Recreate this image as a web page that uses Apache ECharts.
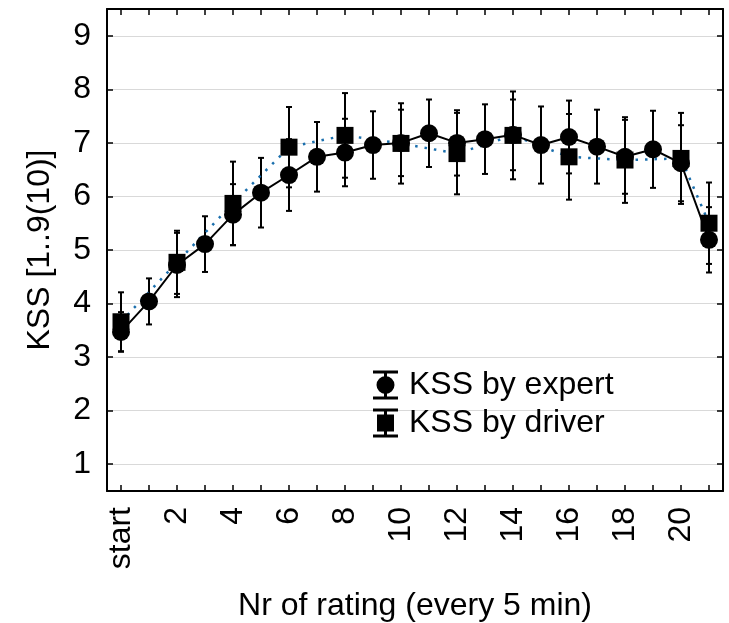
<!DOCTYPE html>
<html>
<head>
<meta charset="utf-8">
<title>KSS by expert and driver</title>
<script src="https://cdn.jsdelivr.net/npm/echarts@6/dist/echarts.min.js"></script>
<style>
  html, body { margin: 0; padding: 0; background: #fff; }
  #chart { width: 729px; height: 623px; }
</style>
</head>
<body>
<div id="chart"></div>
<script>
// Rating index: start, then one rating every 5 minutes
const categories = ['start', '1', '2', '3', '4', '5', '6', '7', '8', '9', '10',
  '11', '12', '13', '14', '15', '16', '17', '18', '19', '20', '21'];

// KSS rated by the expert (every rating)
const expertMean = [3.47, 4.04, 4.72, 5.11, 5.66, 6.07, 6.40, 6.74, 6.82, 6.96, 7.00,
  7.18, 7.00, 7.07, 7.15, 6.96, 7.11, 6.93, 6.74, 6.88, 6.62, 5.19];
const expertErr = [0.37, 0.43, 0.60, 0.52, 0.57, 0.65, 0.67, 0.65, 0.63, 0.63, 0.62,
  0.63, 0.61, 0.65, 0.66, 0.72, 0.68, 0.69, 0.69, 0.72, 0.71, 0.61];

// KSS self-rated by the driver (every second rating and the last one)
const driverMean = [3.66, null, 4.77, null, 5.87, null, 6.92, null, 7.14, null, 6.99,
  null, 6.80, null, 7.14, null, 6.74, null, 6.68, null, 6.71, 5.50];
const driverErr = [0.55, null, 0.59, null, 0.78, null, 0.75, null, 0.79, null, 0.75,
  null, 0.76, null, 0.82, null, 0.80, null, 0.80, null, 0.85, 0.76];

const yTicks = [1, 2, 3, 4, 5, 6, 7, 8, 9];
const yRange = [0.5, 9.5];

const FONT = 'Liberation Sans, Arial, sans-serif';
const BLUE = '#1b6fad';

// [index, mean, error] rows for the error-bar series
function errRows(mean, err) {
  const rows = [];
  mean.forEach(function (m, i) {
    if (m !== null && err[i] !== null) rows.push([i, m, err[i]]);
  });
  return rows;
}

function renderErrorBar(params, api) {
  const i = api.value(0);
  const m = api.value(1);
  const e = api.value(2);
  const hi = api.coord([i, m + e]);
  const lo = api.coord([i, m - e]);
  const cap = 3;
  const style = { stroke: '#000', lineWidth: 2 };
  return {
    type: 'group',
    children: [
      { type: 'line', shape: { x1: hi[0], y1: hi[1], x2: lo[0], y2: lo[1] }, style: style },
      { type: 'line', shape: { x1: hi[0] - cap, y1: hi[1], x2: hi[0] + cap, y2: hi[1] }, style: style },
      { type: 'line', shape: { x1: lo[0] - cap, y1: lo[1], x2: lo[0] + cap, y2: lo[1] }, style: style }
    ]
  };
}

// Legend glyphs: marker with an error bar through it
const barFrame = 'M0 0H25V3H0Z M11 2H14V27H11Z M0 26H25V29H0Z ';
const expertIcon = 'path://' + barFrame + 'M3.5 14.5A9 9 0 1 1 21.5 14.5A9 9 0 1 1 3.5 14.5Z';
const driverIcon = 'path://' + barFrame + 'M4 6H21V23H4Z';

const chart = echarts.init(document.getElementById('chart'), null, { renderer: 'canvas' });

const tickStyle = { show: true, inside: true, length: 6, lineStyle: { color: '#000', width: 1.5 } };
const frameLine = { show: true, onZero: false, lineStyle: { color: '#000', width: 2 } };

chart.setOption({
  animation: false,
  backgroundColor: '#fff',
  textStyle: { fontFamily: FONT },
  grid: { left: 107, right: 6, top: 9, bottom: 132, containLabel: false, outerBoundsMode: 'none' },
  legend: {
    orient: 'vertical',
    left: 368,
    top: 364,
    itemWidth: 25,
    itemHeight: 29,
    itemGap: 6,
    itemStyle: { borderWidth: 0 },
    textStyle: { fontFamily: FONT, fontSize: 32, color: '#000', padding: [0, 0, 0, 6] },
    data: [
      { name: 'KSS by expert', icon: expertIcon },
      { name: 'KSS by driver', icon: driverIcon }
    ]
  },
  xAxis: [
    {
      type: 'category',
      data: categories,
      position: 'bottom',
      boundaryGap: true,
      name: 'Nr of rating (every 5 min)',
      nameLocation: 'middle',
      nameGap: 99,
      nameTextStyle: { fontFamily: FONT, fontSize: 32, color: '#000' },
      axisLine: frameLine,
      axisTick: Object.assign({}, tickStyle, { alignWithLabel: true, interval: 0 }),
      axisLabel: { interval: 1, rotate: 90, margin: 16, fontFamily: FONT, fontSize: 32, color: '#000' },
      splitLine: { show: false }
    },
    {
      type: 'category',
      data: categories,
      position: 'top',
      boundaryGap: true,
      axisLine: frameLine,
      axisTick: Object.assign({}, tickStyle, { alignWithLabel: true, interval: 0 }),
      axisLabel: { show: false },
      splitLine: { show: false }
    }
  ],
  yAxis: [
    {
      type: 'value',
      min: yRange[0],
      max: yRange[1],
      position: 'left',
      name: 'KSS [1..9(10)]',
      nameLocation: 'middle',
      nameGap: 51,
      nameTextStyle: { fontFamily: FONT, fontSize: 32, color: '#000' },
      axisLine: frameLine,
      axisTick: Object.assign({}, tickStyle, { customValues: yTicks }),
      axisLabel: { customValues: yTicks, margin: 16, fontFamily: FONT, fontSize: 32, color: '#000' },
      splitLine: { show: true, customValues: yTicks, lineStyle: { color: '#d9d9d9', width: 1 } }
    },
    {
      type: 'value',
      min: yRange[0],
      max: yRange[1],
      position: 'right',
      axisLine: frameLine,
      axisTick: Object.assign({}, tickStyle, { customValues: yTicks }),
      axisLabel: { show: false, customValues: yTicks },
      splitLine: { show: false }
    }
  ],
  series: [
    {
      name: 'KSS by driver',
      type: 'line',
      data: driverMean,
      connectNulls: true,
      symbol: 'rect',
      symbolSize: 17,
      itemStyle: { color: '#000' },
      lineStyle: { color: BLUE, width: 2.5, type: [2.5, 7] },
      z: 3
    },
    {
      name: 'driver error',
      type: 'custom',
      data: errRows(driverMean, driverErr),
      encode: { x: 0, y: 1 },
      renderItem: renderErrorBar,
      z: 2
    },
    {
      name: 'KSS by expert',
      type: 'line',
      data: expertMean,
      symbol: 'circle',
      symbolSize: 18,
      itemStyle: { color: '#000' },
      lineStyle: { color: '#000', width: 2 },
      z: 4
    },
    {
      name: 'expert error',
      type: 'custom',
      data: errRows(expertMean, expertErr),
      encode: { x: 0, y: 1 },
      renderItem: renderErrorBar,
      z: 2
    }
  ]
});
</script>
</body>
</html>
